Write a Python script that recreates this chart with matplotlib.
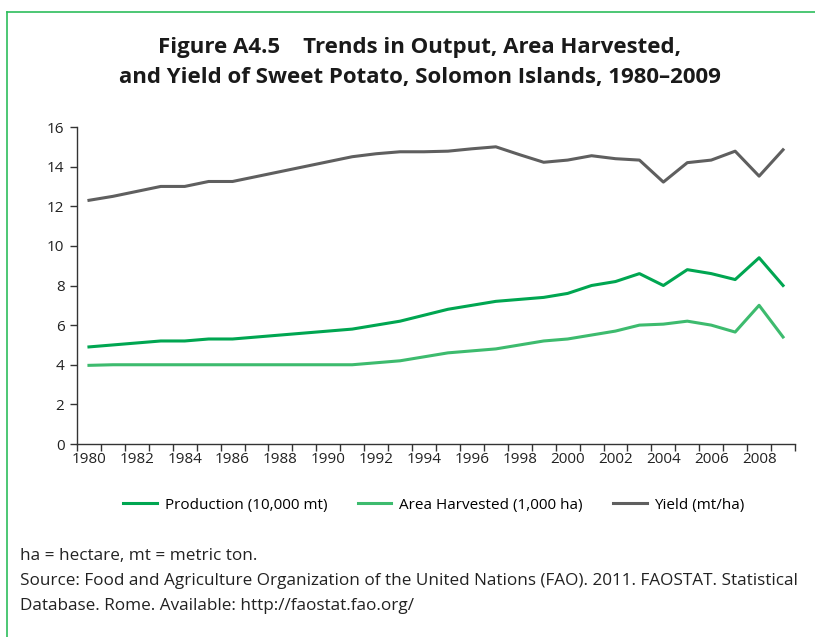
import numpy as np
import matplotlib
matplotlib.use('Agg')
from matplotlib import pyplot as plt
from matplotlib.lines import Line2D

plt.rcParams['font.family'] = ['Open Sans', 'DejaVu Sans']

years = list(range(1980, 2010))
production = [4.9, 5.0, 5.1, 5.2, 5.2, 5.3, 5.3, 5.4, 5.5, 5.6,
              5.7, 5.8, 6.0, 6.2, 6.5, 6.8, 7.0, 7.2, 7.3, 7.4,
              7.6, 8.0, 8.2, 8.6, 8.0, 8.8, 8.6, 8.3, 9.4, 8.0]
area = [3.97, 4.0, 4.0, 4.0, 4.0, 4.0, 4.0, 4.0, 4.0, 4.0,
        4.0, 4.0, 4.1, 4.2, 4.4, 4.6, 4.7, 4.8, 5.0, 5.2,
        5.3, 5.5, 5.7, 6.0, 6.05, 6.2, 6.0, 5.65, 7.0, 5.4]
yld = [12.3, 12.5, 12.75, 13.0, 13.0, 13.25, 13.25, 13.5, 13.75, 14.0,
       14.25, 14.5, 14.65, 14.75, 14.75, 14.78, 14.9, 15.0, 14.6, 14.22,
       14.33, 14.55, 14.4, 14.33, 13.22, 14.2, 14.33, 14.78, 13.52, 14.85]

c_prod = '#00a651'
c_area = '#3dbb6e'
c_yld = '#5f5f5f'

fig = plt.figure(figsize=(8.15, 6.37), dpi=100)
ax = fig.add_axes([77/815, 1-444/637, (795-77)/815, (444-127)/637])

x = np.arange(len(years))
ax.plot(x, production, color=c_prod, lw=2.2, label='Production (10,000 mt)')
ax.plot(x, area, color=c_area, lw=2.2, label='Area Harvested (1,000 ha)')
ax.plot(x, yld, color=c_yld, lw=2.2, label='Yield (mt/ha)')

ax.set_xlim(-0.5, len(years) - 0.5)
ax.set_ylim(0, 16)
ax.set_yticks(range(0, 17, 2))
ax.set_xticks(x[::2])
ax.set_xticklabels([str(y) for y in years[::2]])
ax.set_xticks(np.arange(-0.5, len(years)), minor=True)
ax.tick_params(axis='x', which='major', length=0, pad=6, labelsize=11, colors='#222222')
ax.tick_params(axis='x', which='minor', length=5, width=1, color='#333333')
ax.tick_params(axis='y', length=5, width=1, color='#333333', labelsize=11, labelcolor='#222222', pad=4)
for s in ['top', 'right']:
    ax.spines[s].set_visible(False)
for s in ['left', 'bottom']:
    ax.spines[s].set_color('#333333')
    ax.spines[s].set_linewidth(1)

fig.legend(loc='center', bbox_to_anchor=(434/815, 1-505/637), ncol=3, frameon=False,
           fontsize=11, handlelength=2.2, columnspacing=2.0, handletextpad=0.5)

fig.text(420/815, 1-47/637, 'Figure A4.5    Trends in Output, Area Harvested,',
         ha='center', va='center', fontsize=16, fontweight='bold', color='#1a1a1a')
fig.text(420/815, 1-77/637, 'and Yield of Sweet Potato, Solomon Islands, 1980\u20132009',
         ha='center', va='center', fontsize=16, fontweight='bold', color='#1a1a1a')

fig.text(20/815, 1-556/637, 'ha = hectare, mt = metric ton.', fontsize=12.3, va='center', color='#222222')
fig.text(20/815, 1-581/637, 'Source: Food and Agriculture Organization of the United Nations (FAO). 2011. FAOSTAT. Statistical',
         fontsize=12.3, va='center', color='#222222')
fig.text(20/815, 1-606/637, 'Database. Rome. Available: http://faostat.fao.org/', fontsize=12.3, va='center', color='#222222')

# green frame (top and left)
fig.add_artist(Line2D([7/815, 1], [1-12/637, 1-12/637], color='#2dbd5c', lw=1.2, transform=fig.transFigure))
fig.add_artist(Line2D([7/815, 7/815], [0, 1-12/637], color='#2dbd5c', lw=1.2, transform=fig.transFigure))

fig.savefig('out.png', dpi=100)
